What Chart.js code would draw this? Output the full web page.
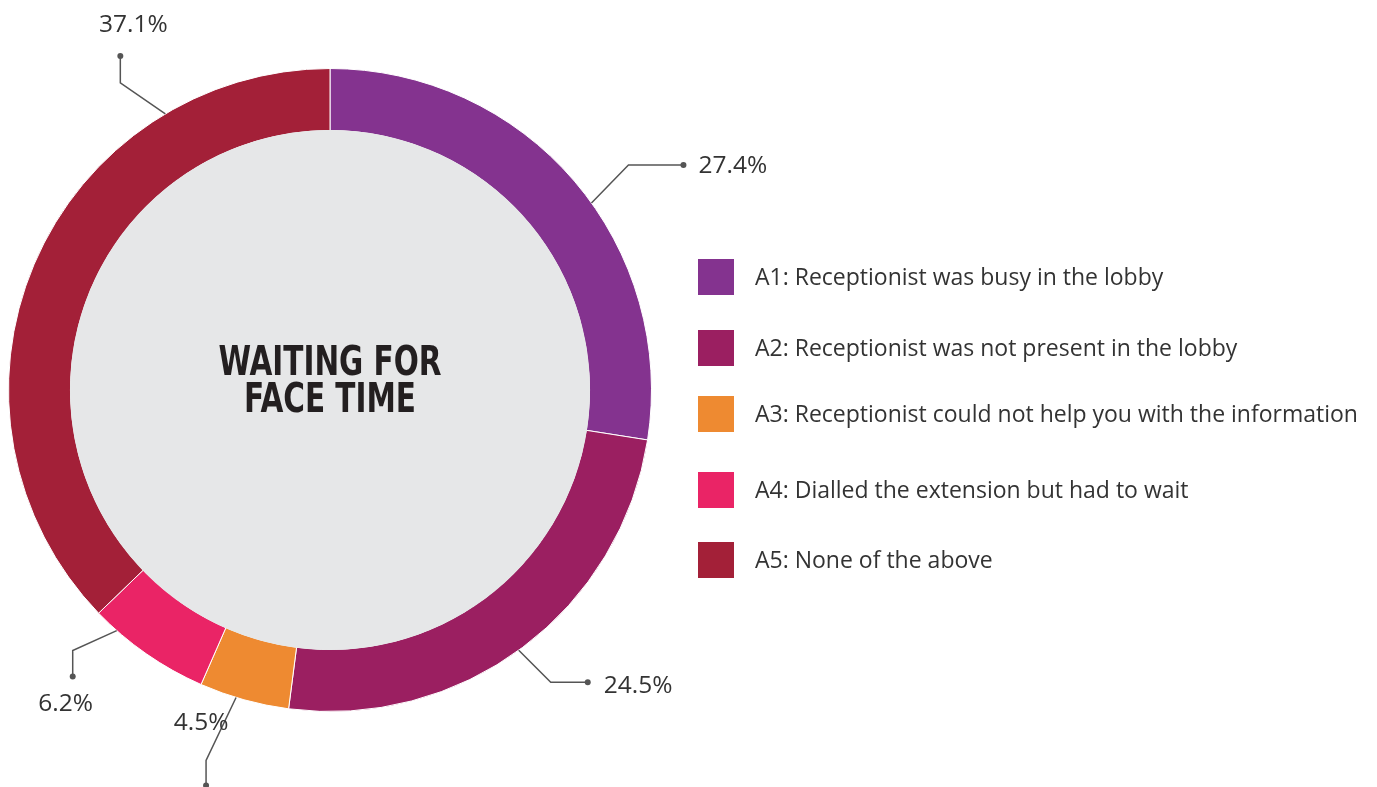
<!DOCTYPE html>
<html>
<head>
<meta charset="utf-8">
<script src="https://cdn.jsdelivr.net/npm/chart.js@4/dist/chart.umd.min.js"></script>
<style>
  html, body { margin: 0; padding: 0; background: #ffffff; }
  #wrap { width: 1377px; height: 787px; position: relative; }
</style>
</head>
<body>
<div id="wrap"><canvas id="c" width="1377" height="787"></canvas></div>
<script>
// ---- data ----
const categories = [
  'A1: Receptionist was busy in the lobby',
  'A2: Receptionist was not present in the lobby',
  'A3: Receptionist could not help you with the information',
  'A4: Dialled the extension but had to wait',
  'A5: None of the above'
];
const shares = [27.4, 24.5, 4.5, 6.2, 37.1];
const shareLabels = ['27.4%', '24.5%', '4.5%', '6.2%', '37.1%'];
const colours = ['#84338F', '#9B1F61', '#EE8A31', '#EA2466', '#A32038'];
const centerTitle = ['WAITING FOR', 'FACE TIME'];

// ---- layout (positions / styles only) ----
const labelFont = '24.5px "Open Sans", "Noto Sans", sans-serif';
const legendFont = '23px "Open Sans", "Noto Sans", sans-serif';
const titleFont = 'bold 40px "DejaVu Sans Condensed", "DejaVu Sans", sans-serif';
const titleScaleX = 0.82;
const textColour = '#333333';
const lineColour = '#555555';
const holeColour = '#E6E7E8';
// per slice: fraction along the arc for leader anchor, elbow offset, dot offset, text offset/alignment
const leaderLayout = [
  { f: 0.55, elbow: [37, -38], dot: [55, 0],  text: [15, 1],   align: 'left' },
  { f: 0.51, elbow: [32, 32],  dot: [37, 0],  text: [16, 4],   align: 'left' },
  { f: 0.59, elbow: [-30, 63], dot: [0, 25],  text: [-5, -62], align: 'center' },
  { f: 0.80, elbow: [-44, 20], dot: [0, 26],  text: [-7, 27],  align: 'center' },
  { f: 0.77, elbow: [-45, -31], dot: [0, -27], text: [13, -31], align: 'center' }
];
const legendLayout = { boxX: 698, box: 36, textX: 755, rowsY: [277, 348, 414, 490, 560] };

const holePlugin = {
  id: 'hole',
  afterDatasetsDraw(chart) {
    const arc = chart.getDatasetMeta(0).data[0];
    if (!arc) return;
    const ctx = chart.ctx;
    ctx.save();
    ctx.fillStyle = holeColour;
    ctx.beginPath();
    ctx.arc(arc.x, arc.y, arc.innerRadius + 0.6, 0, Math.PI * 2);
    ctx.fill();
    ctx.fillStyle = '#231F20';
    ctx.font = titleFont;
    ctx.textAlign = 'center';
    ctx.textBaseline = 'middle';
    ctx.translate(arc.x, arc.y);
    ctx.scale(titleScaleX, 1);
    ctx.fillText(centerTitle[0], 0, -25);
    ctx.fillText(centerTitle[1], 0, 11.5);
    ctx.restore();
  }
};

const leaderPlugin = {
  id: 'leaders',
  afterDraw(chart) {
    const ctx = chart.ctx;
    const meta = chart.getDatasetMeta(0);
    ctx.save();
    meta.data.forEach((el, i) => {
      const L = leaderLayout[i];
      const a = el.startAngle + L.f * (el.endAngle - el.startAngle);
      const ax = el.x + el.outerRadius * Math.cos(a);
      const ay = el.y + el.outerRadius * Math.sin(a);
      const ex = ax + L.elbow[0], ey = ay + L.elbow[1];
      const dx = ex + L.dot[0], dy = ey + L.dot[1];
      ctx.strokeStyle = lineColour;
      ctx.lineWidth = 1.5;
      ctx.beginPath();
      ctx.moveTo(ax, ay);
      ctx.lineTo(ex, ey);
      ctx.lineTo(dx, dy);
      ctx.stroke();
      ctx.fillStyle = lineColour;
      ctx.beginPath();
      ctx.arc(dx, dy, 3, 0, Math.PI * 2);
      ctx.fill();
      ctx.fillStyle = textColour;
      ctx.font = labelFont;
      ctx.textAlign = L.align;
      ctx.textBaseline = 'middle';
      ctx.fillText(shareLabels[i], dx + L.text[0], dy + L.text[1]);
    });
    // legend
    const labels = chart.data.labels;
    const cols = chart.data.datasets[0].backgroundColor;
    labels.forEach((lab, i) => {
      const cy = legendLayout.rowsY[i];
      ctx.fillStyle = cols[i];
      ctx.fillRect(legendLayout.boxX, cy - legendLayout.box / 2, legendLayout.box, legendLayout.box);
      ctx.fillStyle = textColour;
      ctx.font = legendFont;
      ctx.textAlign = 'left';
      ctx.textBaseline = 'middle';
      ctx.fillText(lab, legendLayout.textX, cy + 1);
    });
    ctx.restore();
  }
};

new Chart(document.getElementById('c'), {
  type: 'doughnut',
  data: {
    labels: categories,
    datasets: [{
      data: shares,
      backgroundColor: colours,
      borderColor: '#ffffff',
      borderWidth: 1
    }]
  },
  options: {
    responsive: false,
    animation: false,
    devicePixelRatio: 1,
    cutout: '80.7%',
    layout: { padding: { left: 8, top: 68, right: 725, bottom: 75 } },
    plugins: { legend: { display: false }, tooltip: { enabled: false } }
  },
  plugins: [holePlugin, leaderPlugin]
});
</script>
</body>
</html>
